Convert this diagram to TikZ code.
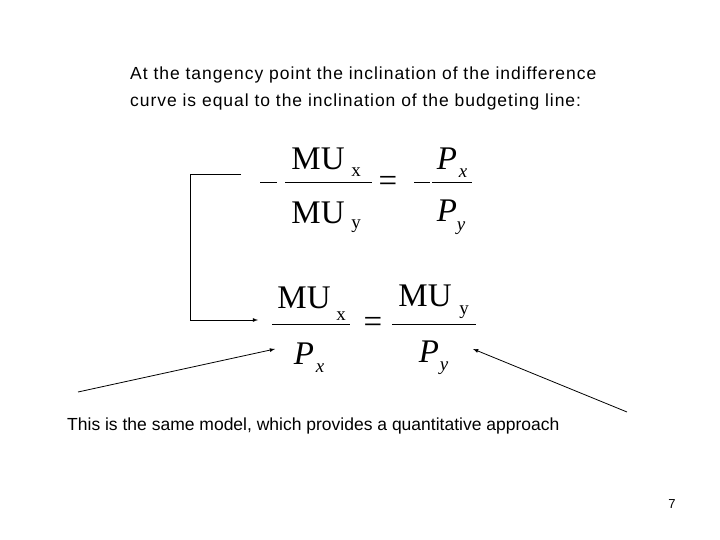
\documentclass[tikz,border=0pt]{standalone}
\usepackage{fontspec}
\setmainfont{Liberation Sans}
\newfontfamily\tms{Liberation Serif}
\newfontfamily\wide[LetterSpace=5.5]{Liberation Sans}
\begin{document}
\begin{tikzpicture}[x=1pt,y=-1pt,
  txt/.style={font=\fontsize{17.5}{21}\selectfont,anchor=west,inner sep=0},
  wtxt/.style={font=\wide\fontsize{17.5}{21}\selectfont,anchor=west,inner sep=0},
  big/.style={font=\tms\fontsize{33}{33}\selectfont,inner sep=0},
  sub/.style={font=\tms\fontsize{19}{19}\selectfont,inner sep=0},
  bar/.style={line width=1pt},
  arr/.style={-latex,line width=0.8pt}]
\useasboundingbox (0,0) rectangle (720,540);
\node[wtxt] (t1) at (130,75) {At the tangency point the inclination of the indifference};
\node[wtxt] (t2) at (130,102) {curve is equal to the inclination of the budgeting line:};
% formula 1
\coordinate (m1a) at (260,183); \coordinate (m1b) at (277,183);
\draw[bar] (m1a) -- (m1b);
\draw[bar] (285,183) -- (372,183);
\node[big] (n1) at (318,159) {MU};
\node[sub] (n1s) at (356,172) {x};
\node[big] (d1) at (318,213) {MU};
\node[sub] (d1s) at (356,226) {y};
\node[big] (e1) at (388,184) {=};
\coordinate (m2a) at (414,183); \coordinate (m2b) at (430,183);
\draw[bar] (m2a) -- (m2b);
\draw[bar] (432,183) -- (472,183);
\node[big] (p1) at (447,159) {\itshape P};
\node[sub] (p1s) at (463,173) {\itshape x};
\node[big] (p2) at (447,211) {\itshape P};
\node[sub] (p2s) at (461,228) {\itshape y};
% formula 2
\draw[bar] (272,324) -- (350,324);
\node[big] (n2) at (304,298) {MU};
\node[sub] (n2s) at (341,316) {x};
\node[big] (p3) at (304,354) {\itshape P};
\node[sub] (p3s) at (320,368) {\itshape x};
\node[big] (e2) at (373,325) {=};
\draw[bar] (392,324) -- (476,324);
\node[big] (n3) at (425,296) {MU};
\node[sub] (n3s) at (464,312) {y};
\node[big] (p4) at (429,352) {\itshape P};
\node[sub] (p4s) at (444,368) {\itshape y};
% connectors
\coordinate (a0) at (241,174);
\coordinate (a1) at (258,320);
\draw[arr] (a0) -- (190,174) -- (190,320) -- (a1);
\coordinate (b0) at (78,392);
\coordinate (b1) at (275,349);
\draw[arr] (b0) -- (b1);
\coordinate (c0) at (627,412);
\coordinate (c1) at (473,349);
\draw[arr] (c0) -- (c1);
\node[txt] (t3) at (67,426) {This is the same model, which provides a quantitative approach};
\node[font=\fontsize{13}{15}\selectfont,inner sep=0] (pg) at (672,504) {7};
\end{tikzpicture}
\end{document}
